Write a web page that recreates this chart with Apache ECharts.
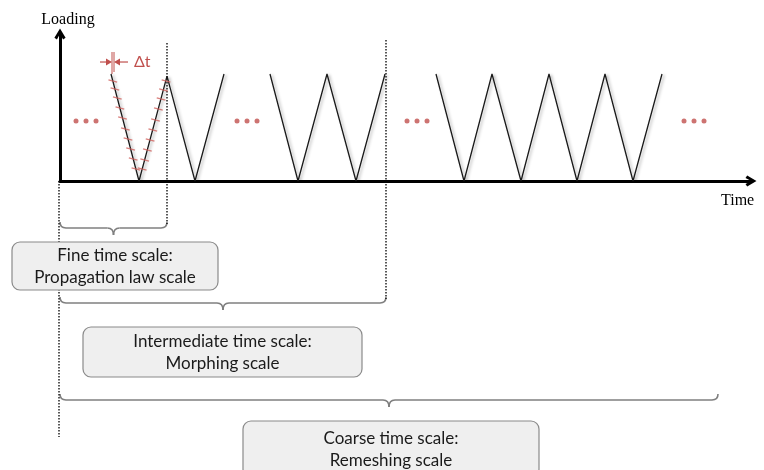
<!DOCTYPE html>
<html>
<head>
<meta charset="utf-8">
<script src="https://cdn.jsdelivr.net/npm/echarts@6/dist/echarts.min.js"></script>
<style>
  html, body { margin: 0; padding: 0; background: #fff; }
  #chart { width: 764px; height: 470px; }
</style>
</head>
<body>
<div id="chart"></div>
<script>
// loading cycles (time in arbitrary units, load relative to the peak)
const fineTime = [5.1, 7.9, 10.7, 13.5, 16.4]
const fineLoad = [1, 0, 0.98, 0, 1]
const midTime = [21.0, 23.8, 26.7, 29.6, 32.5]
const midLoad = [1, 0, 1, 0, 1]
const coarseTime = [37.6, 40.4, 43.2, 46.1, 48.9, 51.7, 54.5, 57.3, 60.2]
const coarseLoad = [1, 0, 1, 0, 1, 0, 1, 0, 1]

// the "..." between groups
const dotTime = [1.6, 2.6, 3.6, 17.7, 18.7, 19.7, 34.7, 35.7, 36.7, 62.4, 63.4, 64.4]
const dotLoad = 0.56

// time increments (dt) marked on the first cycle
const stepTime = [5.28, 5.49, 5.73, 5.99, 6.25, 6.54, 6.80, 7.06, 7.32, 7.59,
  10.60, 10.35, 10.11, 9.84, 9.55, 9.28, 9.01, 8.74, 8.47, 8.22]
const stepLoad = [0.935, 0.86, 0.776, 0.682, 0.589, 0.486, 0.393, 0.299, 0.206, 0.112,
  0.935, 0.85, 0.766, 0.673, 0.57, 0.477, 0.383, 0.29, 0.196, 0.112]

// the three time scales: where each one ends, and its label
const scaleEnd = [10.7, 32.6, 65.8]
const scaleLabel = [
  'Fine time scale:\nPropagation law scale',
  'Intermediate time scale:\nMorphing scale',
  'Coarse time scale:\nRemeshing scale'
]

const RED = '#c0504d'
const zip = (xs, ys) => xs.map((x, i) => [x, Array.isArray(ys) ? ys[i] : ys])

const chart = echarts.init(document.getElementById('chart'))

const waveStyle = {
  color: '#1a1a1a',
  width: 1.3,
  shadowColor: 'rgba(0,0,0,0.3)',
  shadowBlur: 3,
  shadowOffsetX: 2,
  shadowOffsetY: 1
}
const arrowHead = 'path://M0,10 L6,0 L12,10 L9.3,11.8 L6,5.5 L2.7,11.8 Z'

function waveSeries (data) {
  return {
    type: 'line',
    data: data,
    symbol: 'none',
    silent: true,
    lineStyle: waveStyle,
    z: 3
  }
}

chart.setOption({
  animation: false,
  grid: { left: 60, top: 34, right: 13, bottom: 289, containLabel: false },
  xAxis: {
    type: 'value',
    min: 0,
    max: 69.1,
    name: 'Time',
    nameLocation: 'end',
    nameGap: -30,
    nameTextStyle: {
      fontFamily: 'Liberation Serif',
      fontSize: 16,
      color: '#000',
      verticalAlign: 'top',
      padding: [12, 0, 0, 0]
    },
    axisLine: {
      lineStyle: { color: '#000', width: 3 },
      symbol: ['none', arrowHead],
      symbolSize: [13, 11]
    },
    axisTick: { show: false },
    axisLabel: { show: false },
    splitLine: { show: false }
  },
  yAxis: {
    type: 'value',
    min: 0,
    max: 1.374,
    name: 'Loading',
    nameLocation: 'end',
    nameGap: 6,
    nameTextStyle: {
      fontFamily: 'Liberation Serif',
      fontSize: 16,
      color: '#000',
      padding: [0, 0, 0, 16]
    },
    axisLine: {
      lineStyle: { color: '#000', width: 3 },
      symbol: ['none', arrowHead],
      symbolSize: [13, 11]
    },
    axisTick: { show: false },
    axisLabel: { show: false },
    splitLine: { show: false }
  },
  series: [
    waveSeries(zip(fineTime, fineLoad)),
    waveSeries(zip(midTime, midLoad)),
    waveSeries(zip(coarseTime, coarseLoad)),
    {
      type: 'scatter',
      data: zip(stepTime, stepLoad),
      symbol: 'rect',
      symbolSize: [9, 1.3],
      symbolRotate: -15,
      itemStyle: { color: '#d0605d' },
      silent: true,
      z: 4
    },
    {
      type: 'scatter',
      data: zip(dotTime, dotLoad),
      symbolSize: 5,
      itemStyle: { color: RED },
      silent: true
    }
  ]
})

// annotations placed from the axis scale
const px = (t, l) => chart.convertToPixel({ gridIndex: 0 }, [t, l])
const x0 = px(0, 0)[0]
const base = px(0, 0)[1]

function dotted (x, y1, y2) {
  return {
    type: 'line',
    shape: { x1: x, y1: y1, x2: x, y2: y2 },
    style: { stroke: '#000', lineWidth: 1.3, lineDash: [1.5, 1.5] },
    z: 1
  }
}

// curly brace made of straight runs and quadratic curves
function brace (xa, xb, y) {
  const xm = (xa + xb) / 2
  const r = 6
  const st = { stroke: '#7f7f7f', lineWidth: 1.6, fill: null }
  const curve = (x1, y1, cx, cy, x2, y2) => ({
    type: 'bezierCurve',
    shape: { x1: x1, y1: y1, cpx1: cx, cpy1: cy, x2: x2, y2: y2 },
    style: st
  })
  const run = (x1, x2) => ({
    type: 'line',
    shape: { x1: x1, y1: y, x2: x2, y2: y },
    style: st
  })
  return {
    type: 'group',
    z: 2,
    children: [
      curve(xa, y - r, xa, y, xa + r, y),
      run(xa + r, xm - r),
      curve(xm - r, y, xm, y, xm, y + 7),
      curve(xm, y + 7, xm, y, xm + r, y),
      run(xm + r, xb - r),
      curve(xb - r, y, xb, y, xb, y - r)
    ]
  }
}

function box (x, y, w, h, label) {
  return {
    type: 'group',
    z: 10,
    children: [
      {
        type: 'rect',
        z: 10,
        shape: { x: x, y: y, width: w, height: h, r: 8 },
        style: { fill: '#efefef', stroke: '#8a8a8a', lineWidth: 1.2 }
      },
      {
        type: 'text',
        z: 11,
        x: x + w / 2,
        y: y + h / 2 + 1,
        style: {
          text: label,
          fontFamily: 'Lato',
          fontSize: 17,
          lineHeight: 22,
          fill: '#1a1a1a',
          align: 'center',
          verticalAlign: 'middle'
        }
      }
    ]
  }
}

const endX = scaleEnd.map(t => px(t, 0)[0])
const braceY = [228, 303, 400]

const graphics = [
  dotted(x0 - 1, base, 437),
  dotted(endX[0], 43, braceY[0] - 4),
  dotted(endX[1], 40, braceY[1] - 4),
  brace(x0, endX[0], braceY[0]),
  brace(x0, endX[1], braceY[1]),
  brace(x0, endX[2], braceY[2]),
  box(12, 242, 206, 48, scaleLabel[0]),
  box(83, 327, 279, 50, scaleLabel[1]),
  box(243, 421, 296, 56, scaleLabel[2])
]

// dt marker at the start of the first cycle
const start = px(fineTime[0], fineLoad[0])
const dtL = start[0] + 1
const dtR = dtL + 2
const dtY = start[1] - 12
graphics.push(
  { type: 'line', shape: { x1: dtL, y1: start[1] - 22, x2: dtL, y2: start[1] }, style: { stroke: RED, lineWidth: 1 } },
  { type: 'line', shape: { x1: dtR, y1: start[1] - 22, x2: dtR, y2: start[1] - 2 }, style: { stroke: RED, lineWidth: 1 } },
  { type: 'line', shape: { x1: dtL - 12, y1: dtY, x2: dtL - 2, y2: dtY }, style: { stroke: RED, lineWidth: 1.2 } },
  { type: 'polygon', shape: { points: [[dtL, dtY], [dtL - 6, dtY - 3.5], [dtL - 6, dtY + 3.5]] }, style: { fill: RED } },
  { type: 'line', shape: { x1: dtR + 14, y1: dtY, x2: dtR + 2, y2: dtY }, style: { stroke: RED, lineWidth: 1.2 } },
  { type: 'polygon', shape: { points: [[dtR, dtY], [dtR + 6, dtY - 3.5], [dtR + 6, dtY + 3.5]] }, style: { fill: RED } },
  {
    type: 'text',
    x: dtR + 20,
    y: dtY,
    style: { text: 'Δt', fontFamily: 'Lato', fontSize: 16, fill: RED, verticalAlign: 'middle' }
  }
)

chart.setOption({ graphic: graphics })
</script>
</body>
</html>
